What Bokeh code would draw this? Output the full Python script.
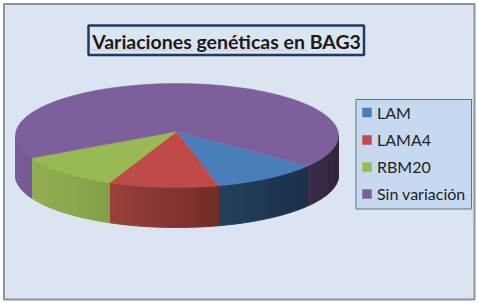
import numpy as np
from bokeh.plotting import figure
from bokeh.embed import file_html
from bokeh.resources import INLINE
from bokeh.core.properties import value
from bokeh.models import Range1d

# --- chart data ---
title_text = "Variaciones genéticas en BAG3"
categories = ["LAM", "LAMA4", "RBM20", "Sin variación"]
values = [11, 11, 11, 67]
top_colors = ["#4a7ebb", "#be4b48", "#98b954", "#7d5f9b"]
wall_from = ["#24405f", "#98413b", "#93ae52", "#7a5c96"]   # left end of each wall
wall_to = ["#1b3048", "#752b28", "#84a048", "#755893"]     # right end of each wall
wall_far_from, wall_far_to = "#3b2d4a", "#31253c"          # right-hand part of the last slice

# --- geometry ---
W, H = 478, 303
CX, CY, RX, RY, DEPTH = 176.5, 135.0, 161.5, 52.0, 40.0
APEX = (176.0, 131.0)
START_DEG = -35.5

p = figure(width=W, height=H, output_backend="svg", toolbar_location=None,
           x_range=Range1d(0, W), y_range=Range1d(H, 0),
           min_border=0, margin=(0, 0, 0, 0),
           x_axis_location=None, y_axis_location=None,
           background_fill_color="white", border_fill_color="white")
p.outline_line_color = None
p.grid.visible = False

# chart frame
p.quad(left=[3.5], right=[474], top=[3.5], bottom=[299],
       fill_color="#dbe5f1", line_color="#8b949b", line_width=2)

def rim(t):
    return CX + RX * np.cos(t), CY - RY * np.sin(t)

def hex_rgb(c):
    return np.array([int(c[i:i + 2], 16) for i in (1, 3, 5)], float)

def mix(a, b, f):
    v = hex_rgb(a) * (1 - f) + hex_rgb(b) * f
    return "#%02x%02x%02x" % tuple(int(round(x)) for x in v)

# slice angles: clockwise from the start angle
fracs = np.array(values, float) / sum(values)
edges = np.radians(START_DEG) - np.concatenate([[0], np.cumsum(fracs)]) * 2 * np.pi

# walls (front half only)
wx, wy, wc = [], [], []
for i in range(len(values)):
    a, b = edges[i], edges[i + 1]            # a > b
    for lo, hi in [(-np.pi, 0), (-3 * np.pi, -2 * np.pi)]:
        s, e = min(a, hi), max(b, lo)
        if s <= e:
            continue
        c0, c1 = (wall_far_from, wall_far_to) if hi < -np.pi else (wall_from[i], wall_to[i])
        n = 14
        ts = np.linspace(s, e, n + 1)
        xs_all = rim(ts)[0]
        xmin, xmax = xs_all.min(), xs_all.max()
        for k in range(n):
            t = np.linspace(ts[k], ts[k + 1], 6)
            x, y = rim(t)
            wx.append(np.concatenate([x, x[::-1]]))
            wy.append(np.concatenate([y, y[::-1] + DEPTH]))
            f = (x.mean() - xmin) / max(xmax - xmin, 1)
            wc.append(mix(c0, c1, f))
p.patches(wx, wy, fill_color=wc, line_color=wc, line_width=1)

# top face
for i in range(len(values)):
    t = np.linspace(edges[i], edges[i + 1], 160)
    x, y = rim(t)
    p.patch(np.concatenate([[APEX[0]], x]), np.concatenate([[APEX[1]], y]),
            fill_color=top_colors[i], line_color=top_colors[i], line_width=0.5)

# title box
p.quad(left=[88], right=[363.5], top=[25], bottom=[54.5],
       fill_color="#dbe5f1", line_color="#1f3864", line_width=2.5)
p.segment(x0=[91, 197], y0=[49.5, 49.5], x1=[193, 308], y1=[49.5, 49.5],
          line_color="#e0a3ad", line_width=1, line_dash="2 1")
p.text(x=[226], y=[41], text=[title_text], text_font=value("Lato"),
       text_font_size="19.5px", text_font_style="bold", text_color="#1a1a1a",
       text_align="center", text_baseline="middle")

# legend
p.quad(left=[355.5], right=[471], top=[99], bottom=[208.5],
       fill_color="#c6d9f0", line_color="#5f6f7c", line_width=1)
ly = [112, 139.5, 166.5, 193.5]
p.rect(x=[366.5] * 4, y=ly, width=9.5, height=9.5, fill_color=top_colors, line_color=None)
p.text(x=[376.5] * 4, y=[v - 0.5 for v in ly], text=categories, text_font=value("Lato"),
       text_font_size="16px", text_color="#222222",
       text_align="left", text_baseline="middle")

open("out.html", "w").write(file_html(p, INLINE))
